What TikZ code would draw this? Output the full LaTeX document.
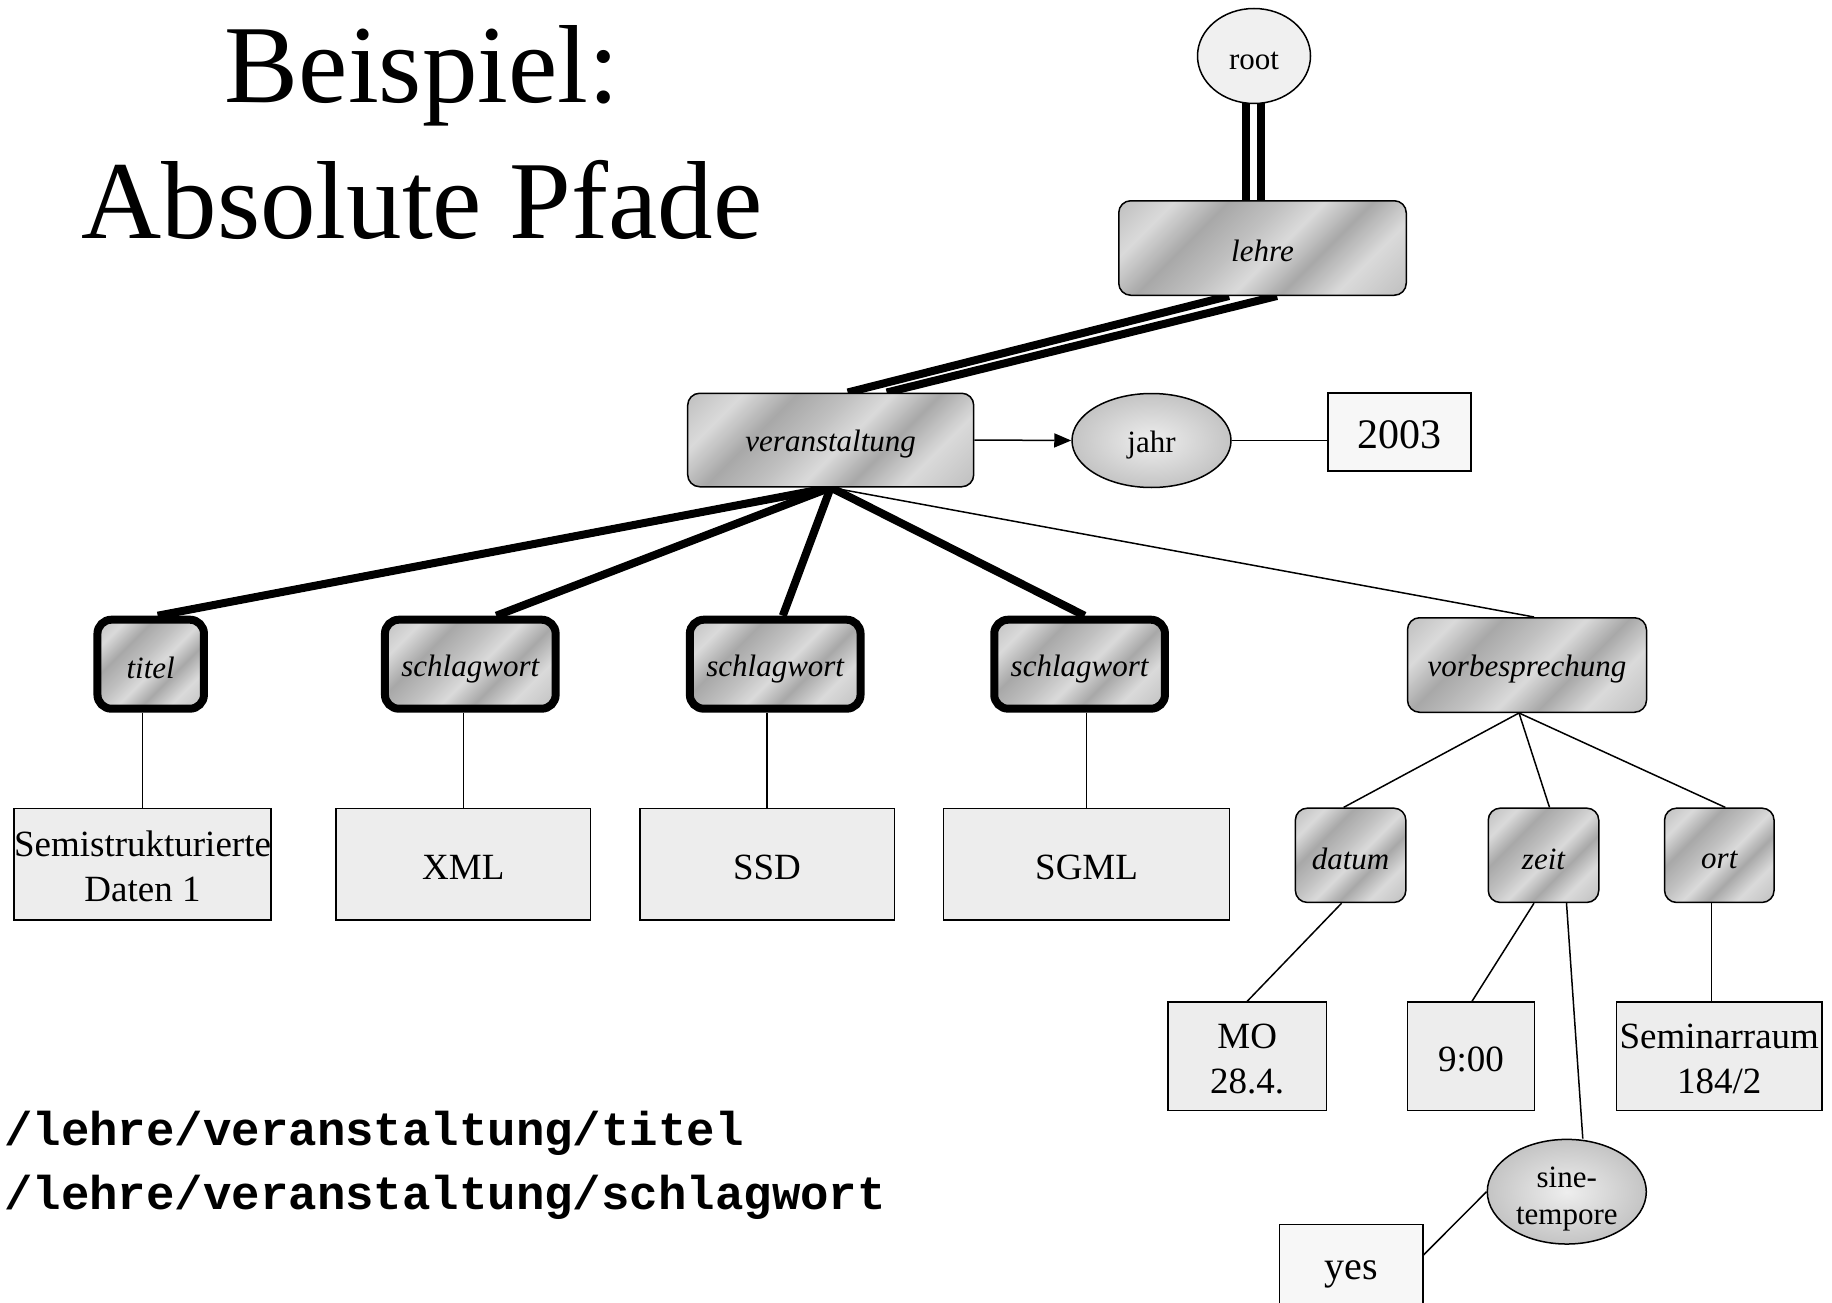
\documentclass[tikz,border=0pt]{standalone}
\usepackage{fontspec}
\setmainfont{Liberation Serif}
\setmonofont{Liberation Mono}
\usetikzlibrary{calc,arrows.meta,shapes.geometric,backgrounds}

\definecolor{mlight}{RGB}{218,218,218}
\definecolor{mmid}{RGB}{192,192,192}
\definecolor{mdark}{RGB}{168,168,168}
\definecolor{leafgray}{RGB}{237,237,237}
\definecolor{valgray}{RGB}{247,247,247}
\definecolor{ellin}{RGB}{238,238,238}
\definecolor{ellout}{RGB}{196,196,196}
\definecolor{rootgray}{RGB}{240,240,240}
\pgfdeclarehorizontalshading{metal}{100bp}{color(0bp)=(mmid); color(15bp)=(mmid); color(25bp)=(mlight); color(35bp)=(mdark); color(45bp)=(mmid); color(53bp)=(mlight); color(62bp)=(mdark); color(72bp)=(mlight); color(85bp)=(mmid); color(100bp)=(mmid)}

\newcommand\ml[1]{\begin{tabular}{@{}c@{}}#1\end{tabular}}
\newcommand\dn[2]{\raisebox{-#1}[\height][\depth]{#2}}

\tikzset{
  elem/.style={draw, line width=1.5pt, rounded corners=12pt, shade, shading=metal, shading angle=-45,
    font=\itshape\fontsize{31}{37}\selectfont, inner sep=0pt},
  elemb/.style={elem, line width=8pt, rounded corners=14pt},
  leaf/.style={draw, line width=1.5pt, fill=leafgray, font=\fontsize{37}{45}\selectfont, inner sep=0pt},
  val/.style={leaf, fill=valgray},
  attr/.style={ellipse, draw, line width=1.5pt, inner color=ellin, outer color=ellout,
    font=\fontsize{31}{37}\selectfont, inner sep=0pt},
  attrflat/.style={ellipse, draw, line width=1.5pt, fill=rootgray,
    font=\fontsize{31}{37}\selectfont, inner sep=0pt},
  conn/.style={line width=1.5pt},
  boldconn/.style={line width=8pt},
  titletext/.style={font=\fontsize{111}{133}\selectfont, anchor=base},
  codetext/.style={font=\ttfamily\bfseries\fontsize{47.4}{60}\selectfont, anchor=base west, inner sep=0pt},
}

\begin{document}
\begin{tikzpicture}[x=1pt,y=-1pt]
\useasboundingbox (0,0) rectangle (1832,1303);
\clip (0,0) rectangle (1832,1303);

% title
\node[titletext] (t1) at (422,103) {Beispiel:};
\node[titletext] (t2) at (422,238) {Absolute Pfade};

% code
\node[codetext] (c1) at (4,1145) {/lehre/veranstaltung/titel};
\node[codetext] (c2) at (4,1209) {/lehre/veranstaltung/schlagwort};

% nodes
\node[attrflat, minimum width=113pt, minimum height=95pt] (root) at (1254,56) {\dn{4.5pt}{root}};
\node[elem, minimum width=287.5pt, minimum height=94.5pt] (lehre) at (1262.5,248) {\dn{3pt}{lehre}};
\node[elem, minimum width=286pt, minimum height=93.5pt] (veran) at (830.7,440) {\dn{4.5pt}{veranstaltung}};
\node[attr, minimum width=159pt, minimum height=94pt] (jahr) at (1151.5,440.5) {\dn{4.5pt}{jahr}};
\node[val, minimum width=143pt, minimum height=78pt, font=\fontsize{42}{50}\selectfont] (year) at (1399.5,432) {\dn{2.5pt}{2003}};

\node[elemb, minimum width=106.5pt, minimum height=89pt] (titel) at (150.7,664.2) {\dn{3.5pt}{titel}};
\node[elemb, minimum width=170.7pt, minimum height=89pt] (sw1) at (470.3,664.2) {\dn{4.5pt}{schlagwort}};
\node[elemb, minimum width=170.7pt, minimum height=89pt] (sw2) at (775.2,664.2) {\dn{4.5pt}{schlagwort}};
\node[elemb, minimum width=170.7pt, minimum height=89pt] (sw3) at (1079.6,664.2) {\dn{4.5pt}{schlagwort}};
\node[elem, minimum width=239pt, minimum height=94.5pt] (vorb) at (1527,665) {\dn{4.5pt}{vorbesprechung}};

\node[leaf, minimum width=255.5pt, minimum height=111.5pt] (semi) at (142.5,864) {\dn{5.5pt}{\ml{Semistrukturierte\\Daten 1}}};
\node[leaf, minimum width=254.5pt, minimum height=111.5pt] (xml) at (463.3,864) {\dn{3pt}{XML}};
\node[leaf, minimum width=254.5pt, minimum height=111.5pt] (ssd) at (767,864) {\dn{3pt}{SSD}};
\node[leaf, minimum width=285.8pt, minimum height=111.5pt] (sgml) at (1086.6,864) {\dn{3pt}{SGML}};

\node[elem, minimum width=110.5pt, minimum height=94.3pt] (datum) at (1350.6,855.3) {\dn{4pt}{datum}};
\node[elem, minimum width=110.5pt, minimum height=94.3pt] (zeit) at (1543.5,855.3) {\dn{4pt}{zeit}};
\node[elem, minimum width=109.5pt, minimum height=94.3pt] (ort) at (1719.3,855.3) {\dn{5pt}{ort}};

\node[leaf, minimum width=158.5pt, minimum height=108.3pt] (mo) at (1247.2,1056.2) {\dn{5.5pt}{\ml{MO\\28.4.}}};
\node[leaf, minimum width=127pt, minimum height=108.3pt] (nine) at (1471,1056.2) {\dn{3pt}{9:00}};
\node[leaf, minimum width=205.3pt, minimum height=108.3pt] (sem) at (1719.3,1056.2) {\dn{5.5pt}{\ml{Seminarraum\\184/2}}};

\node[attr, minimum width=159pt, minimum height=90pt] (sine) at (1566.8,1191.7) {\dn{7pt}{\ml{sine-\\tempore}}};
\node[val, minimum width=143.5pt, minimum height=87pt, font=\fontsize{40}{48}\selectfont] (yes) at (1351,1268) {\dn{6pt}{yes}};

% connectors
\begin{scope}[on background layer]
\draw[boldconn] ([xshift=-8.5pt]root.center) -- ([xshift=-17pt]lehre.north);
\draw[boldconn] ([xshift=6.5pt]root.center) -- ([xshift=-2pt]lehre.north);
\draw[boldconn] ([xshift=-33.5pt]lehre.south) -- ([xshift=17pt]veran.north);
\draw[boldconn] ([xshift=14.5pt]lehre.south) -- ([xshift=56pt]veran.north);

\draw[boldconn] (veran.south) -- ([xshift=7pt]titel.north);
\draw[boldconn] (veran.south) -- ([xshift=26pt]sw1.north);
\draw[boldconn] (veran.south) -- ([xshift=7.6pt]sw2.north);
\draw[boldconn] (veran.south) -- ([xshift=5pt]sw3.north);
\draw[conn] (veran.south) -- ([xshift=7pt]vorb.north);

\draw[conn] (semi.north |- titel.south) -- (semi.north);
\draw[conn] (xml.north |- sw1.south) -- (xml.north);
\draw[conn] (ssd.north |- sw2.south) -- (ssd.north);
\draw[conn] (sgml.north |- sw3.south) -- (sgml.north);

\draw[conn] ([xshift=-8pt]vorb.south) -- ([xshift=-7pt]datum.north);
\draw[conn] ([xshift=-8pt]vorb.south) -- ([xshift=6pt]zeit.north);
\draw[conn] ([xshift=-8pt]vorb.south) -- ([xshift=6pt]ort.north);

\draw[conn] ([xshift=-9pt]datum.south) -- (mo.north);
\draw[conn] ([xshift=-9.5pt]zeit.south) -- ([xshift=1pt]nine.north);
\draw[conn] ([xshift=-7.6pt]ort.south) -- ([xshift=-7.6pt]sem.north);
\draw[conn] ([xshift=23pt]zeit.south) -- ([xshift=16pt]sine.north);
\draw[conn] (sine.west) -- ([yshift=13pt]yes.east);

\draw[conn] (jahr.east) -- (jahr.east -| year.west);
\end{scope}
\draw[conn, -{Triangle[length=17pt,width=14pt]}] (veran.east) -- (jahr.west);
\end{tikzpicture}
\end{document}
